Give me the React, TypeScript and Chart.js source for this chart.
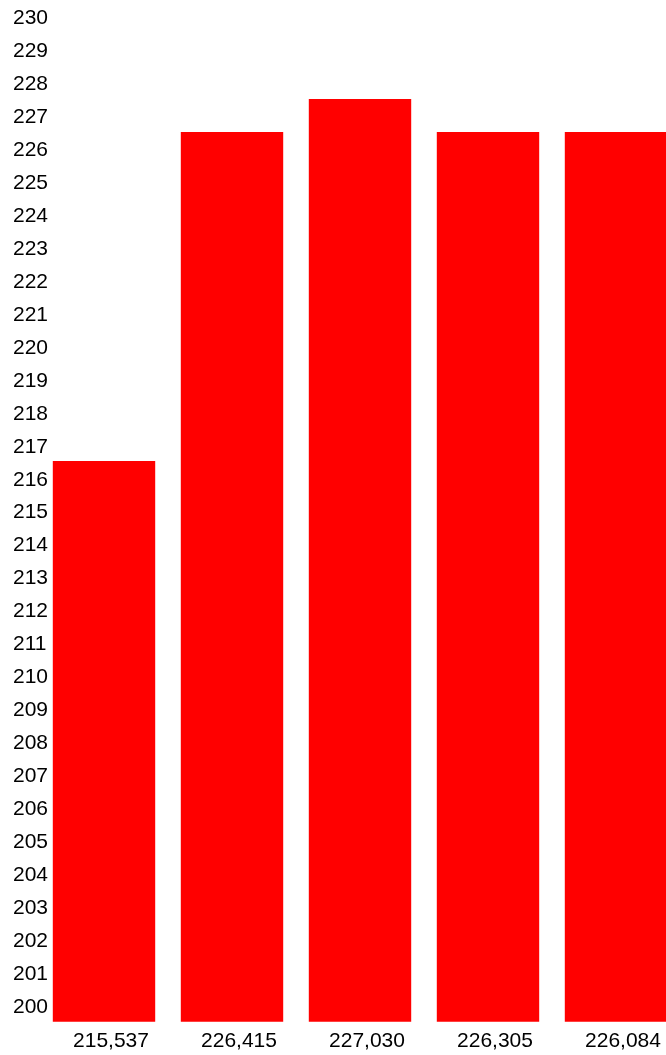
import React, { useEffect, useRef } from "react";
import { Chart, registerables } from "chart.js";

Chart.register(...registerables);

const categories = ["215,537", "226,415", "227,030", "226,305", "226,084"];
const values = [216.57, 226.55, 227.55, 226.55, 226.55];
const yMin = 199.557;
const yMax = 230.3125;
const yStep = 1;

const CANVAS_W = 680;
const CANVAS_H = 1047;

export default function App() {
  const ref = useRef<HTMLCanvasElement | null>(null);

  useEffect(() => {
    if (!ref.current) return;
    const font = { family: "'Liberation Sans', Arial, sans-serif", size: 21 };
    const chart = new Chart(ref.current, {
      type: "bar",
      data: {
        labels: categories,
        datasets: [
          {
            data: values,
            backgroundColor: "#ff0000",
            borderWidth: 0,
            categoryPercentage: 0.8,
            barPercentage: 1,
          },
        ],
      },
      options: {
        animation: false,
        responsive: false,
        maintainAspectRatio: false,
        devicePixelRatio: 1,
        layout: { padding: { left: 5, right: 8, top: 0, bottom: 0 } },
        plugins: { legend: { display: false }, tooltip: { enabled: false } },
        scales: {
          x: {
            grid: { display: false, drawTicks: false },
            border: { display: false },
            ticks: {
              font,
              color: "#000",
              padding: 7,
              labelOffset: 7,
              maxRotation: 0,
              autoSkip: false,
            },
            afterFit: (s: any) => {
              s.height = CANVAS_H - 1013.7;
              s.paddingLeft = 0;
              s.paddingRight = 0;
            },
          },
          y: {
            min: yMin,
            max: yMax,
            grid: { display: false, drawTicks: false },
            border: { display: false },
            ticks: {
              stepSize: yStep,
              includeBounds: false,
              autoSkip: false,
              font,
              color: "#000",
              mirror: true,
              crossAlign: "near",
              padding: -27,
            },
            afterFit: (s: any) => {
              s.width = 27;
              s.paddingTop = 0;
              s.paddingBottom = 0;
            },
          },
        },
      },
    });
    return () => chart.destroy();
  }, []);

  return (
    <div
      style={{
        position: "fixed",
        left: 0,
        top: 0,
        width: 666,
        height: 1055,
        overflow: "hidden",
        background: "#fff",
      }}
    >
      <canvas
        ref={ref}
        width={CANVAS_W}
        height={CANVAS_H}
        style={{ position: "absolute", left: 8, top: 8, width: CANVAS_W, height: CANVAS_H }}
      />
    </div>
  );
}
